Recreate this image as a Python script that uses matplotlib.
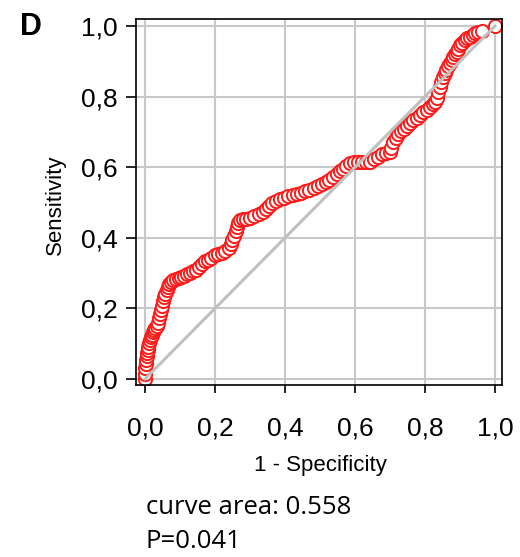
import matplotlib
matplotlib.use('Agg')
import matplotlib.pyplot as plt

# ROC curve points (1 - specificity, sensitivity)
fpr = [0.000, 0.000, 0.000, 0.002, 0.003, 0.005, 0.006, 0.008, 0.010, 0.012,
       0.014, 0.017, 0.020, 0.023, 0.027, 0.030, 0.034, 0.037, 0.040, 0.043,
       0.046, 0.049, 0.051, 0.055, 0.058, 0.062, 0.066, 0.070, 0.075, 0.080,
       0.088, 0.096, 0.104, 0.112, 0.120, 0.128, 0.137, 0.145, 0.154, 0.163,
       0.172, 0.181, 0.190, 0.200, 0.210, 0.220, 0.230, 0.240,
       0.245, 0.250, 0.255, 0.259, 0.263, 0.267, 0.271,
       0.280, 0.290, 0.300, 0.312, 0.325, 0.337, 0.346, 0.355, 0.363, 0.375,
       0.387, 0.398, 0.410, 0.422, 0.434, 0.446, 0.458, 0.470, 0.482, 0.494,
       0.505, 0.516, 0.527, 0.538, 0.548, 0.557, 0.566,
       0.575, 0.586, 0.597, 0.608, 0.620, 0.632, 0.643, 0.654, 0.665, 0.676,
       0.688, 0.700,
       0.704, 0.709, 0.716, 0.724, 0.732, 0.740, 0.748, 0.757, 0.766, 0.776,
       0.786, 0.795, 0.805, 0.814, 0.822, 0.829, 0.835,
       0.838, 0.842, 0.846, 0.851, 0.856, 0.861, 0.866, 0.871, 0.876, 0.881,
       0.886, 0.891, 0.895, 0.900, 0.906, 0.913, 0.920, 0.928, 0.936, 0.944,
       0.952, 0.962, 1.000]
tpr = [0.000, 0.015, 0.030, 0.043, 0.054, 0.064, 0.073, 0.082, 0.092, 0.101,
       0.110, 0.118, 0.126, 0.133, 0.140, 0.145, 0.150, 0.160, 0.172, 0.184,
       0.196, 0.208, 0.220, 0.232, 0.242, 0.252, 0.261, 0.268, 0.275, 0.280,
       0.283, 0.286, 0.290, 0.293, 0.297, 0.300, 0.305, 0.310, 0.318, 0.326,
       0.333, 0.338, 0.343, 0.350, 0.354, 0.358, 0.363, 0.372,
       0.382, 0.394, 0.406, 0.418, 0.431, 0.442, 0.450,
       0.452, 0.454, 0.456, 0.462, 0.468, 0.473, 0.482, 0.491, 0.499, 0.505,
       0.510, 0.514, 0.517, 0.520, 0.524, 0.528, 0.532, 0.536, 0.540, 0.546,
       0.552, 0.558, 0.564, 0.572, 0.580, 0.588, 0.594,
       0.604, 0.612, 0.614, 0.615, 0.615, 0.614, 0.615, 0.622, 0.630, 0.636,
       0.640, 0.643,
       0.655, 0.672, 0.684, 0.694, 0.702, 0.709, 0.716, 0.725, 0.733, 0.740,
       0.748, 0.755, 0.763, 0.771, 0.779, 0.786, 0.795,
       0.812, 0.826, 0.840, 0.855, 0.866, 0.876, 0.886, 0.896, 0.905, 0.913,
       0.920, 0.926, 0.936, 0.946, 0.953, 0.960, 0.966, 0.970, 0.975, 0.979,
       0.982, 0.986, 1.000]

ticks = [0.0, 0.2, 0.4, 0.6, 0.8, 1.0]
tick_labels = ['0,0', '0,2', '0,4', '0,6', '0,8', '1,0']
area_text = 'curve area: 0.558'
p_text = 'P=0.041'

W, H = 520, 557
fig = plt.figure(figsize=(W / 100, H / 100), dpi=100)

# axes box in pixels: left 136, right 502, top 19, bottom 385
ax = fig.add_axes([136 / W, 1 - 385 / H, (502 - 136) / W, (385 - 19) / H])
ax.set_xlim(-0.0257, 1.02)
ax.set_ylim(-0.017, 1.0198)

ax.grid(True, color='#c8c8c8', linewidth=1.5)
ax.set_axisbelow(True)

ax.plot(fpr, tpr, color='black', linewidth=1.5, marker='o', markersize=9.5,
        markerfacecolor='white', markeredgecolor='#ff1a1a', markeredgewidth=1.4,
        zorder=2)
ax.plot([0, 1], [0, 1], color='#c0c0c0', linewidth=2.2, zorder=3)

for s in ax.spines.values():
    s.set_linewidth(1.2)
    s.set_color('black')

ax.set_xticks(ticks)
ax.set_yticks(ticks)
ax.set_xticklabels(tick_labels, family='Liberation Sans', fontsize=19)
ax.set_yticklabels(tick_labels, family='Liberation Sans', fontsize=19)
ax.tick_params(axis='x', direction='out', length=6, width=1.2, pad=17)
ax.tick_params(axis='y', direction='out', length=7, width=1.2, pad=6)

fig.text(55 / W, 1 - 205 / H, 'Sensitivity', rotation=90, ha='center', va='center',
         family='Liberation Sans', fontsize=16)
fig.text(320 / W, 1 - 465 / H, '1 - Specificity', ha='center', va='center',
         family='Liberation Sans', fontsize=16)
fig.text(31 / W, 1 - 27 / H, 'D', ha='center', va='center',
         family='Liberation Sans', fontsize=22, fontweight='bold')
fig.text(146 / W, 1 - 507 / H, area_text, ha='left', va='center',
         family='Open Sans', fontsize=18.5)
fig.text(146 / W, 1 - 542 / H, p_text, ha='left', va='center',
         family='Open Sans', fontsize=18.5)

fig.savefig('out.png', dpi=100)
